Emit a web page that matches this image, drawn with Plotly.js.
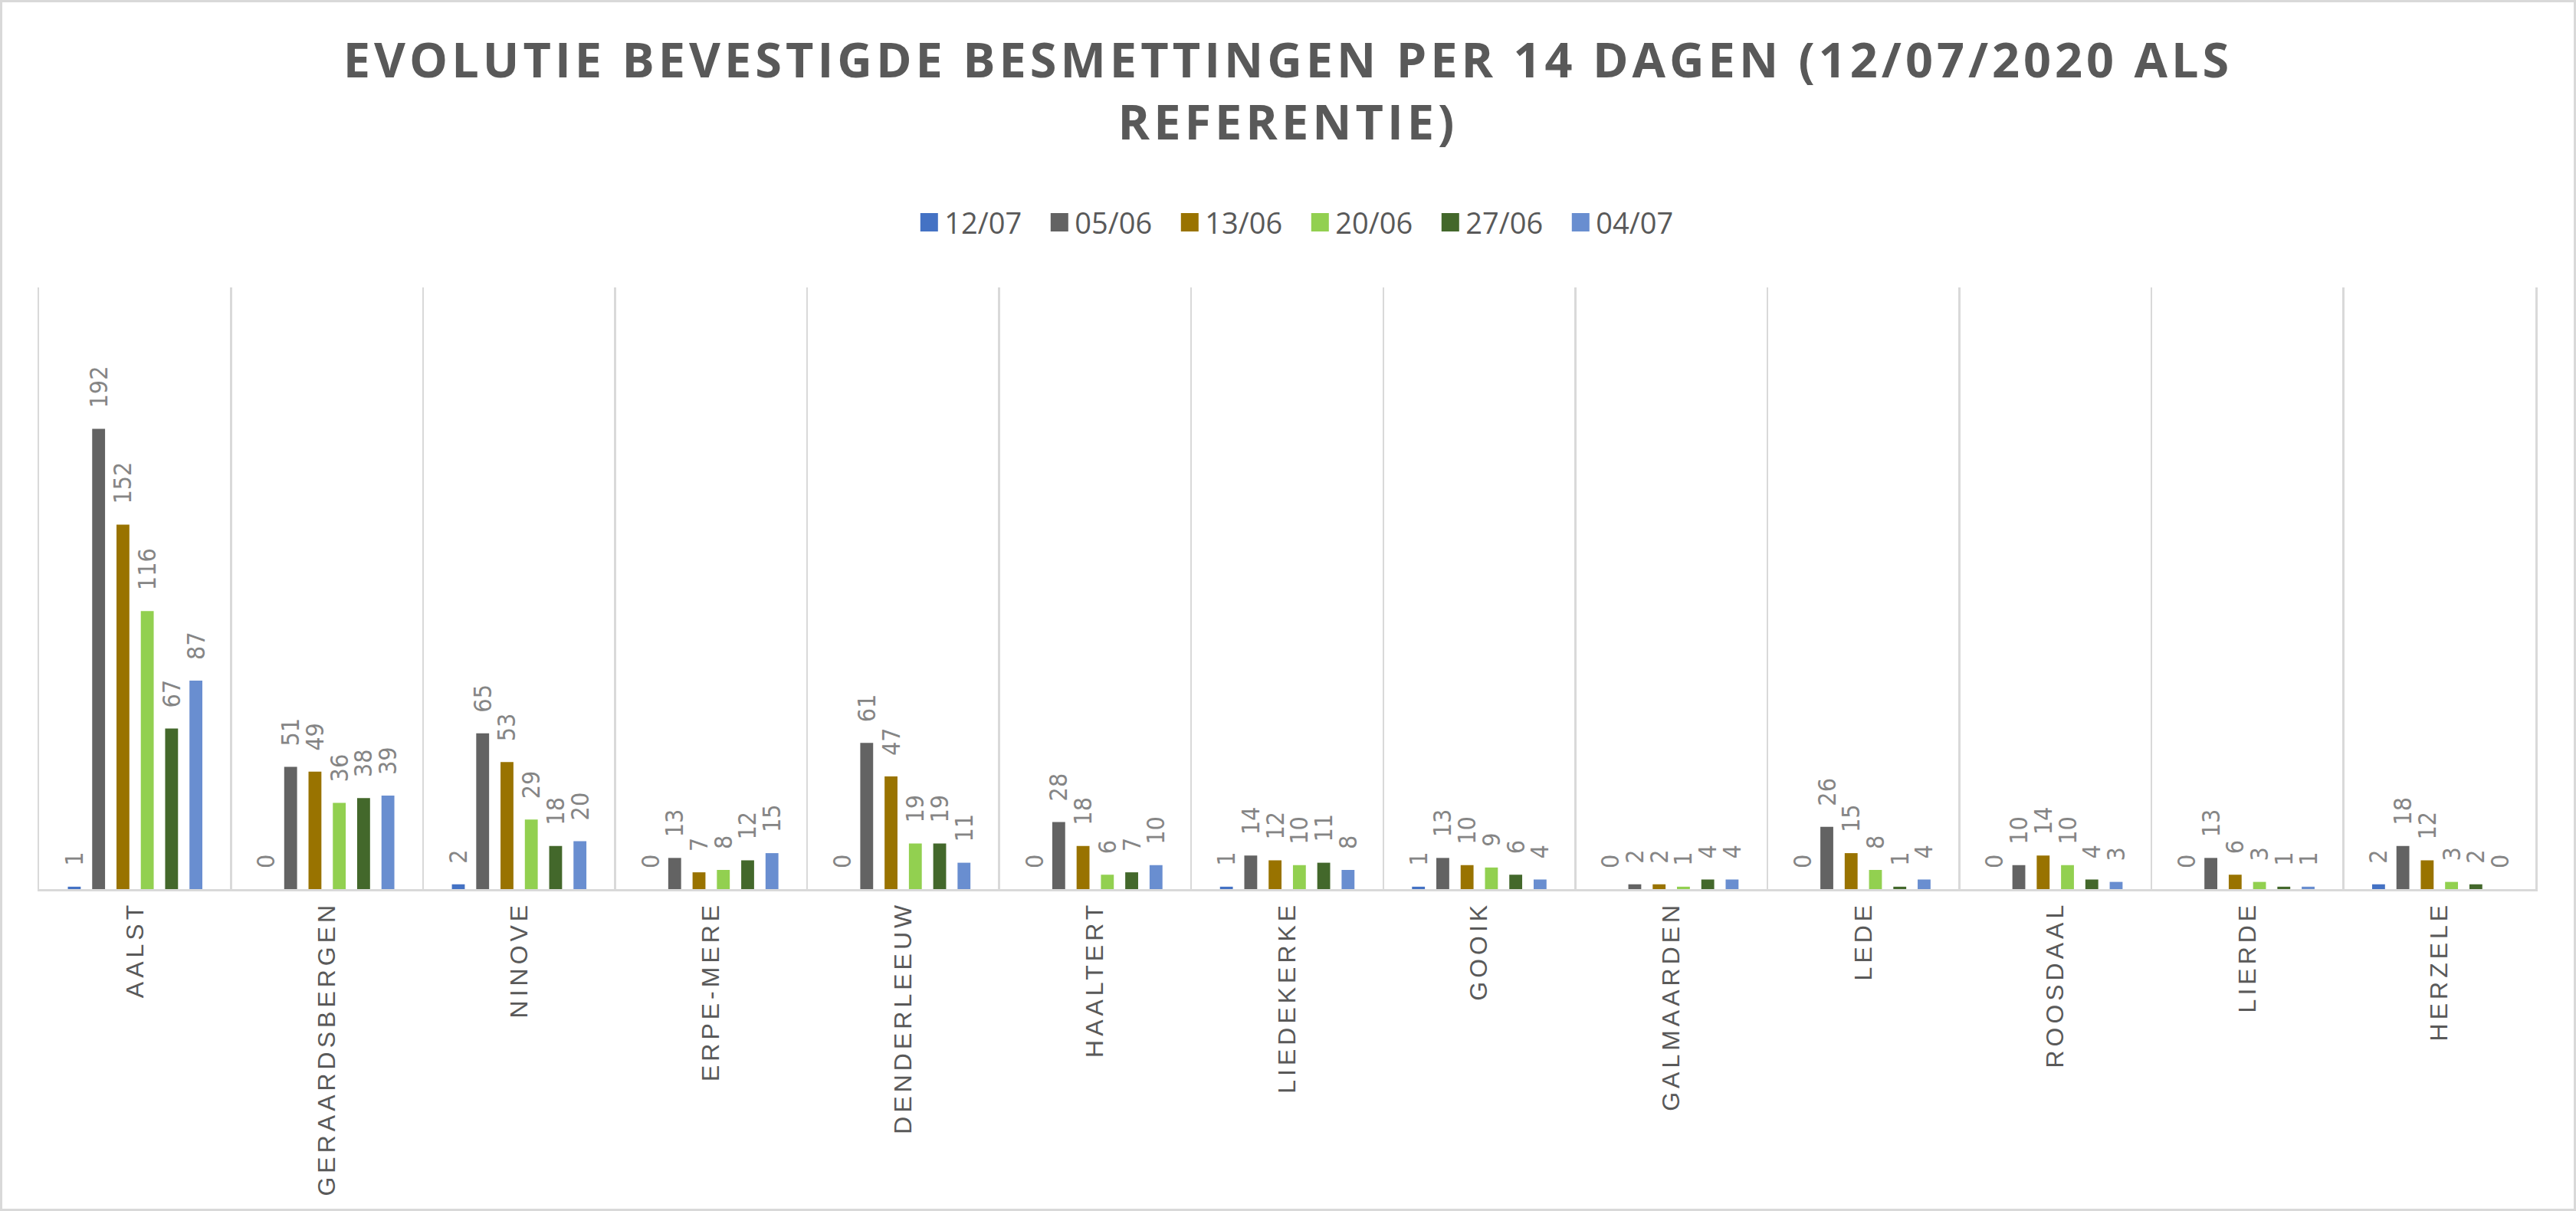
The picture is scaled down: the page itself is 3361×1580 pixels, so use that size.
<!DOCTYPE html>
<html>
<head>
<meta charset="utf-8">
<script src="https://cdn.plot.ly/plotly-3.0.1.min.js"></script>
<style>
  html, body { margin: 0; padding: 0; background: #ffffff; }
  #chart { width: 3355px; height: 1574px; border: 3px solid #d9d9d9; }
  .xtick text { letter-spacing: 5px; }
  .gtitle { letter-spacing: 5px; }
</style>
</head>
<body>
<div id="chart"></div>
<script>
const categories = ['AALST','GERAARDSBERGEN','NINOVE','ERPE-MERE','DENDERLEEUW','HAALTERT','LIEDEKERKE','GOOIK','GALMAARDEN','LEDE','ROOSDAAL','LIERDE','HERZELE'];
const seriesNames = ['12/07','05/06','13/06','20/06','27/06','04/07'];
const s1207 = [1,0,2,0,0,0,1,1,0,0,0,0,2];
const s0506 = [192,51,65,13,61,28,14,13,2,26,10,13,18];
const s1306 = [152,49,53,7,47,18,12,10,2,15,14,6,12];
const s2006 = [116,36,29,8,19,6,10,9,1,8,10,3,3];
const s2706 = [67,38,18,12,19,7,11,6,4,1,4,1,2];
const s0407 = [87,39,20,15,11,10,8,4,4,4,3,1,0];
const seriesValues = [s1207, s0506, s1306, s2006, s2706, s0407];
const seriesColors = ['#4472C4','#636363','#997300','#92D050','#43682B','#698ED0'];

const labelPad = '\u00a0\u00a0\u2009';

const traces = seriesNames.map((name, i) => ({
  type: 'bar',
  name: name,
  x: categories,
  y: seriesValues[i],
  marker: { color: seriesColors[i] },
  text: seriesValues[i].map(v => labelPad + String(v)),
  texttemplate: '%{text}',
  textposition: 'outside',
  textangle: -90,
  constraintext: 'none',
  cliponaxis: false,
  textfont: { family: 'DejaVu Sans Condensed, DejaVu Sans', size: 32, color: '#858585' },
  hoverinfo: 'skip'
}));

const layout = {
  width: 3355,
  height: 1574,
  paper_bgcolor: '#ffffff',
  plot_bgcolor: '#ffffff',
  margin: { l: 48, r: 50, t: 372, b: 417, pad: 0 },
  barmode: 'group',
  bargap: 0.24,
  bargroupgap: 0.47,
  title: {
    text: 'EVOLUTIE BEVESTIGDE BESMETTINGEN PER 14 DAGEN (12/07/2020 ALS<br>REFERENTIE)',
    font: { family: 'Open Sans, sans-serif', size: 63, color: '#595959', weight: 700 },
    x: 0.5, xanchor: 'center', xref: 'container',
    y: 0.938, yanchor: 'top', yref: 'container'
  },
  showlegend: true,
  legend: {
    orientation: 'h',
    x: 0.507, xanchor: 'center',
    y: 1.108, yanchor: 'middle',
    entrywidth: 125,
    entrywidthmode: 'pixels',
    font: { family: 'Open Sans, sans-serif', size: 38, color: '#595959' },
    traceorder: 'normal'
  },
  xaxis: {
    type: 'category',
    tickson: 'boundaries',
    showgrid: true,
    gridcolor: '#d9d9d9',
    gridwidth: 2.5,
    showline: true,
    linecolor: '#d9d9d9',
    linewidth: 3,
    ticks: 'outside',
    ticklen: 21,
    tickcolor: 'rgba(0,0,0,0)',
    tickangle: -90,
    tickfont: { family: 'Liberation Sans, Arial, sans-serif', size: 32, color: '#595959' },
    range: [-0.5, 12.5],
    fixedrange: true
  },
  yaxis: {
    range: [0, 251],
    showgrid: false,
    zeroline: false,
    showticklabels: false,
    showline: true,
    mirror: true,
    linecolor: '#d9d9d9',
    linewidth: 2.5,
    ticks: '',
    fixedrange: true
  }
};

Plotly.newPlot('chart', traces, layout, { displayModeBar: false, staticPlot: true }).then(gd => {
  gd.querySelectorAll('.legendpoints path').forEach(p => p.setAttribute('d', 'M11.5,12H-11.5V-12H11.5Z'));
});
</script>
</body>
</html>
